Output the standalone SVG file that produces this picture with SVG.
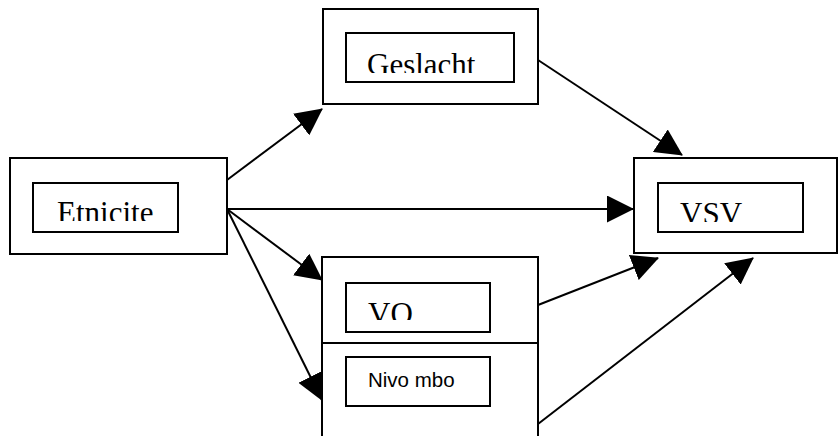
<svg xmlns="http://www.w3.org/2000/svg" width="839" height="436" viewBox="0 0 839 436">
<style>
.box{fill:#fff;stroke:#000;stroke-width:2}
.conn{stroke:#000;stroke-width:2;fill:none}
.lbl{font-family:"Liberation Serif","Times New Roman",serif;font-size:31px;fill:#000}
.lbl2{font-family:"Liberation Sans",Arial,sans-serif;font-size:20.5px;fill:#000}
</style>
<defs>
<marker id="ah" markerUnits="userSpaceOnUse" viewBox="0 0 27 27" markerWidth="27" markerHeight="27" refX="26" refY="13.5" orient="auto">
<path d="M0,0 L27,13.5 L0,27 z" fill="#000"/>
</marker>
<clipPath id="cE"><rect x="34" y="184" width="143" height="37"/></clipPath>
<clipPath id="cG"><rect x="347" y="34" width="166" height="39"/></clipPath>
<clipPath id="cV"><rect x="659" y="184" width="143" height="38"/></clipPath>
<clipPath id="cO"><rect x="347" y="284" width="142" height="36"/></clipPath>
</defs>
<rect width="839" height="436" fill="#fff"/>
<g id="connectors">
<line class="conn" x1="227" y1="180" x2="322" y2="109" marker-end="url(#ah)"/>
<line class="conn" x1="538" y1="60" x2="682" y2="155" marker-end="url(#ah)"/>
<line class="conn" x1="227" y1="209" x2="633" y2="209" marker-end="url(#ah)"/>
<line class="conn" x1="227" y1="209" x2="322" y2="280" marker-end="url(#ah)"/>
<line class="conn" x1="227" y1="209" x2="322" y2="400" marker-end="url(#ah)"/>
<line class="conn" x1="538" y1="305" x2="658" y2="258" marker-end="url(#ah)"/>
<line class="conn" x1="538" y1="424" x2="753" y2="258" marker-end="url(#ah)"/>
</g>
<g id="etnicite">
<rect class="box" x="10" y="158" width="217" height="96"/>
<rect class="box" x="33" y="183" width="145" height="49"/>
<text class="lbl" x="57" y="223" clip-path="url(#cE)">Etnicite</text>
</g>
<g id="geslacht">
<rect class="box" x="323" y="9" width="215" height="95"/>
<rect class="box" x="346" y="33" width="168" height="49"/>
<text class="lbl" x="367" y="75" clip-path="url(#cG)">Geslacht</text>
</g>
<g id="vsv">
<rect class="box" x="634" y="158" width="203" height="95"/>
<rect class="box" x="658" y="183" width="145" height="49"/>
<text class="lbl" x="680" y="224" clip-path="url(#cV)">VSV</text>
</g>
<g id="vo">
<rect class="box" x="322" y="257" width="216" height="86"/>
<rect class="box" x="346" y="283" width="144" height="49"/>
<text class="lbl" x="368" y="324" clip-path="url(#cO)">VO</text>
</g>
<g id="nivo-mbo">
<rect class="box" x="322" y="343" width="216" height="100"/>
<rect class="box" x="346" y="357" width="144" height="49"/>
<text class="lbl2" x="368" y="387">Nivo mbo</text>
</g>
</svg>
